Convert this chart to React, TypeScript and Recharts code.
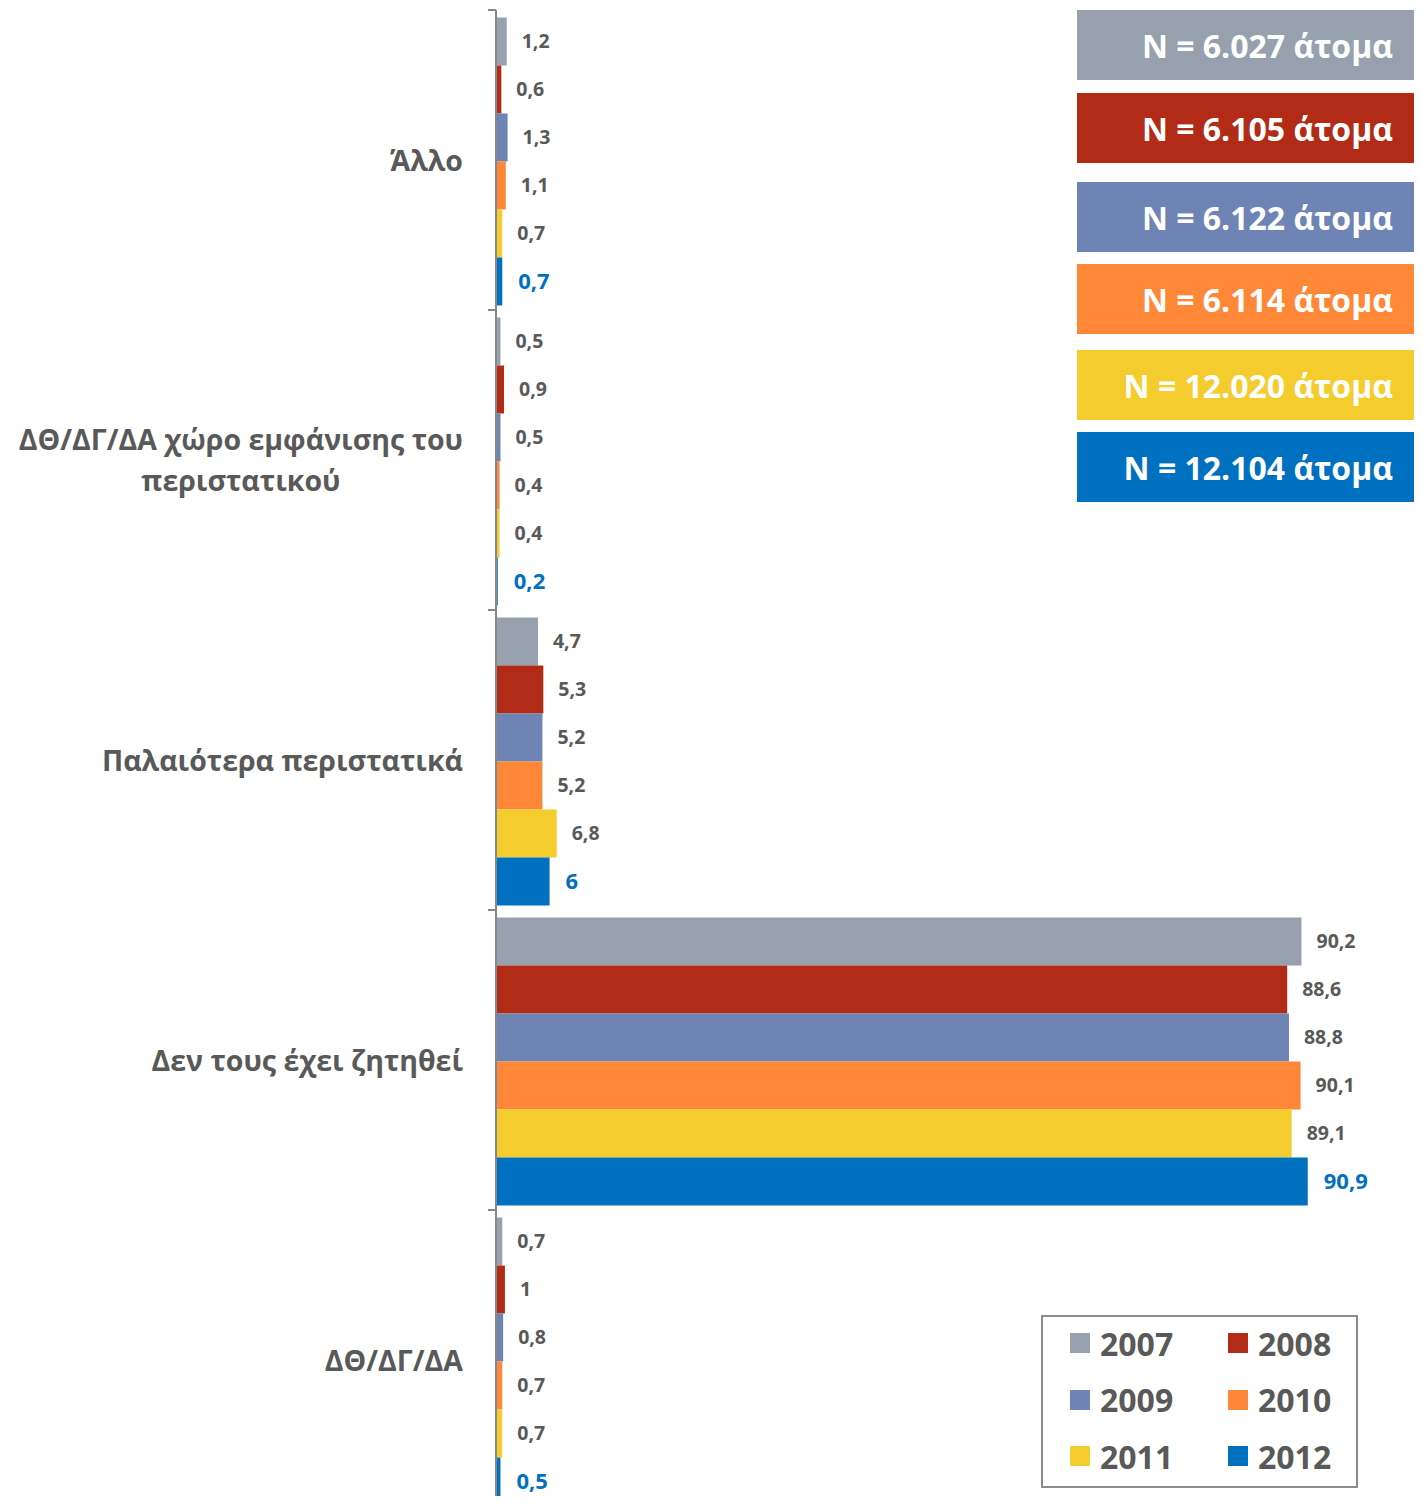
import React from "react";
import {
  BarChart,
  Bar,
  XAxis,
  YAxis,
  LabelList,
  Legend,
} from "recharts";

const categories = [
  "Άλλο",
  "ΔΘ/ΔΓ/ΔΑ χώρο εμφάνισης του|περιστατικού",
  "Παλαιότερα περιστατικά",
  "Δεν τους έχει ζητηθεί",
  "ΔΘ/ΔΓ/ΔΑ",
];

const years = ["2007", "2008", "2009", "2010", "2011", "2012"];
const colors = ["#97A0AD", "#B22B17", "#6E84B5", "#FF8838", "#F4CC2D", "#0070C0"];

const v2007 = [1.2, 0.5, 4.7, 90.2, 0.7];
const v2008 = [0.6, 0.9, 5.3, 88.6, 1];
const v2009 = [1.3, 0.5, 5.2, 88.8, 0.8];
const v2010 = [1.1, 0.4, 5.2, 90.1, 0.7];
const v2011 = [0.7, 0.4, 6.8, 89.1, 0.7];
const v2012 = [0.7, 0.2, 6, 90.9, 0.5];

const sampleSizes = [
  "N = 6.027 άτομα",
  "N = 6.105 άτομα",
  "N = 6.122 άτομα",
  "N = 6.114 άτομα",
  "N = 12.020 άτομα",
  "N = 12.104 άτομα",
];

const series = [v2007, v2008, v2009, v2010, v2011, v2012];

const data = categories.map((name, i) => {
  const row: Record<string, any> = { name };
  years.forEach((y, k) => {
    row[y] = series[k][i];
  });
  return row;
});

const FONT = "'Open Sans', 'Noto Sans', sans-serif";
const GREY = "#595959";

const fmt = (v: any) => String(v).replace(".", ",");

function CategoryTick(props: any) {
  const { x, y, payload } = props;
  const half = payload && payload.offset ? payload.offset : 150;
  const lines = String(payload.value).split("|");
  return (
    <g>
      <line x1={x - 8} x2={x} y1={y - half} y2={y - half} stroke="#888" strokeWidth={2} />
      <line x1={x - 8} x2={x} y1={y + half} y2={y + half} stroke="#888" strokeWidth={2} />
      <foreignObject x={x - 500} y={y - 60} width={467} height={120}>
        <div
          style={{
            width: 467,
            height: 120,
            display: "flex",
            alignItems: "center",
            justifyContent: "flex-end",
          }}
        >
          <div
            style={{
              textAlign: "center",
              fontFamily: FONT,
              fontWeight: 700,
              fontSize: 28.5,
              lineHeight: "41px",
              color: GREY,
              whiteSpace: "nowrap",
            }}
          >
            {lines.map((l, i) => (
              <div key={i}>{l}</div>
            ))}
          </div>
        </div>
      </foreignObject>
    </g>
  );
}

function LegendBox() {
  return (
    <div
      style={{
        width: 313,
        height: 169,
        border: "2px solid #8C8C8C",
        display: "grid",
        gridTemplateColumns: "158px 155px",
        gridTemplateRows: "56px 57px 56px",
        boxSizing: "content-box",
      }}
    >
      {years.map((y, i) => (
        <div
          key={y}
          style={{
            display: "flex",
            alignItems: "center",
            paddingLeft: 27,
            marginTop: -4,
            fontFamily: FONT,
            fontWeight: 700,
            fontSize: 32,
            color: GREY,
          }}
        >
          <span
            style={{
              width: 20,
              height: 20,
              background: colors[i],
              display: "inline-block",
              marginRight: 10,
            }}
          />
          {y}
        </div>
      ))}
    </div>
  );
}

const boxTops = [10, 93, 182, 264, 350, 432];

export default function App() {
  return (
    <div
      style={{
        position: "relative",
        margin: -8,
        width: 1422,
        height: 1504,
        overflow: "hidden",
        background: "#fff",
      }}
    >
      <BarChart
        width={1422}
        height={1520}
        data={data}
        layout="vertical"
        margin={{ top: 10, right: 33, bottom: 10, left: 0 }}
        barCategoryGap="2.5%"
        barGap={0}
      >
        <XAxis type="number" domain={[0, 100]} hide />
        <YAxis
          type="category"
          dataKey="name"
          width={496}
          axisLine={{ stroke: "#888", strokeWidth: 2 }}
          tickLine={false}
          tickSize={0}
          tickMargin={0}
          tick={<CategoryTick />}
          interval={0}
        />
        <Legend
          layout="horizontal"
          verticalAlign="middle"
          align="center"
          content={() => <LegendBox />}
          wrapperStyle={{ left: 1041, top: 1315, width: 317, height: 173 }}
        />
        {years.map((y, i) => (
          <Bar
            key={y}
            dataKey={y}
            fill={colors[i]}
            isAnimationActive={false}
          >
            <LabelList
              dataKey={y}
              position="right"
              offset={i === 5 ? 16 : 15}
              formatter={fmt}
              style={{
                fontFamily: FONT,
                fontWeight: 700,
                fontSize: i === 5 ? 22 : 19.5,
                fill: i === 5 ? "#0070C0" : GREY,
              }}
            />
          </Bar>
        ))}
      </BarChart>
      {sampleSizes.map((t, i) => (
        <div
          key={t}
          style={{
            position: "absolute",
            left: 1077,
            top: boxTops[i],
            width: 338,
            height: 70,
            background: colors[i],
            color: "#fff",
            fontFamily: FONT,
            fontWeight: 700,
            fontSize: 32,
            display: "flex",
            alignItems: "center",
            justifyContent: "flex-end",
            paddingRight: 22,
            boxSizing: "border-box",
          }}
        >
          {t}
        </div>
      ))}
    </div>
  );
}
